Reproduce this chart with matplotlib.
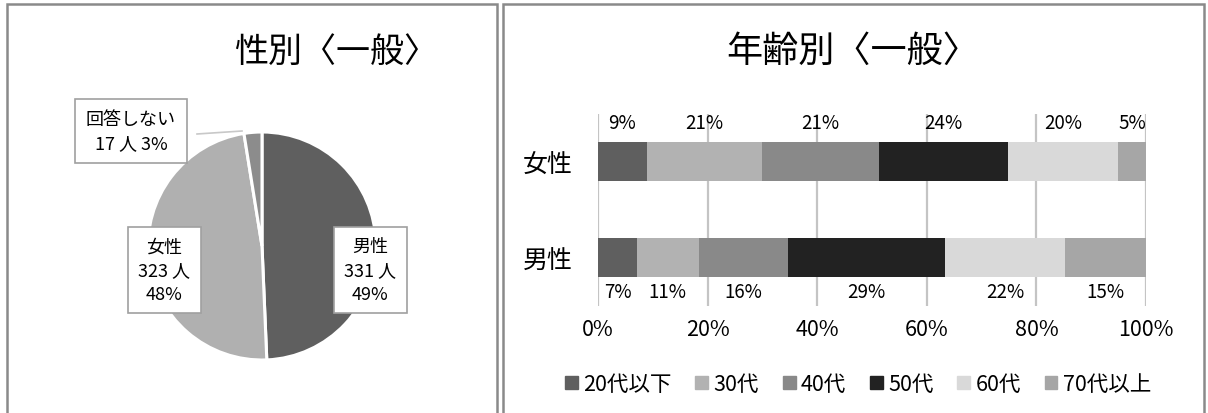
import matplotlib
matplotlib.use("Agg")
import matplotlib.pyplot as plt
from matplotlib.patches import Rectangle, Patch
import numpy as np

plt.rcParams['font.family'] = ['Noto Sans CJK JP', 'DejaVu Sans']

# pie data: gender
gender_labels = ['男性', '女性', '回答しない']
gender_counts = [331, 323, 17]
gender_colors = ['#5f5f5f', '#b0b0b0', '#8c8c8c']

# bar data: age share by gender (percent)
age_groups = ['20代以下', '30代', '40代', '50代', '60代', '70代以上']
sexes = ['男性', '女性']
male_pct = [7.1, 11.3, 16.3, 28.6, 21.9, 14.8]
female_pct = [8.9, 21.1, 21.2, 23.6, 20.1, 5.1]
age_colors = ['#5f5f5f', '#b2b2b2', '#898989', '#222222', '#d9d9d9', '#a6a6a6']

W, H = 1208, 414
fig = plt.figure(figsize=(W / 100, H / 100), dpi=100)


def fx(px):
    return px / W


def fy(py):
    return 1 - py / H


def panel(x0, x1):
    fig.add_artist(Rectangle((fx(x0), fy(H + 5)), fx(x1 - x0), (H) / H,
                             transform=fig.transFigure, fill=False,
                             edgecolor='#8a8a8a', linewidth=1.8))


panel(7, 497)
panel(503, 1204)

# ---- pie ----
cx, cy, r = 262, 247, 114
ax1 = fig.add_axes([fx(8), fy(413), fx(488), 408 / H])
wedges, _ = ax1.pie(gender_counts, colors=gender_colors, startangle=90,
                    counterclock=False,
                    wedgeprops=dict(edgecolor='white', linewidth=2.2))
ax1.set_aspect('auto')
ax1.set_xlim((8 - cx) / r, (496 - cx) / r)
ax1.set_ylim((cy - 413) / r, (cy - 5) / r)
ax1.axis('off')

total = sum(gender_counts)
pcts = [round(c / total * 100) for c in gender_counts]
box = dict(boxstyle='square,pad=0.6', facecolor='white',
           edgecolor='#a0a0a0', linewidth=1.2)
label_pos = [(370.5, 271), (164.5, 271), (131, 132)]
for i, (name, cnt, p) in enumerate(zip(gender_labels, gender_counts, pcts)):
    px, py = label_pos[i]
    if i < 2:
        s = f'{name}\n{cnt} 人\n{p}%'
    else:
        s = f'{name}\n{cnt} 人 {p}%'
    ax1.text((px - cx) / r, (cy - py) / r, s, ha='center', va='center',
             fontsize=13, linespacing=1.4, bbox=box, zorder=5)
# leader line for the small slice
ax1.plot([(197 - cx) / r, (242 - cx) / r], [(cy - 135) / r, (cy - 132) / r],
         color='#c8c8c8', linewidth=1.2, zorder=4)

fig.text(fx(336), fy(52), '性別〈一般〉', ha='center', va='center', fontsize=24.5)

# ---- stacked bar ----
ax2 = fig.add_axes([fx(598), fy(307), fx(1146 - 598), 192 / H])
y = np.arange(len(sexes))
rows = np.array([male_pct, female_pct])
left = np.zeros(len(sexes))
for j, grp in enumerate(age_groups):
    bars = ax2.barh(y, rows[:, j], left=left, height=0.41,
                    color=age_colors[j], label=grp, zorder=3)
    for k, rect in enumerate(bars):
        xc = rect.get_x() + rect.get_width() / 2
        yl = 1.41 if k == 1 else -0.35
        ax2.text(xc, yl, f'{round(rows[k, j])}%', ha='center', va='center',
                 fontsize=13.5, zorder=4)
    left += rows[:, j]

ax2.set_xlim(0, 100)
ax2.set_ylim(-0.505, 1.495)
ax2.set_xticks(range(0, 101, 20))
ax2.set_xticklabels([f'{t}%' for t in range(0, 101, 20)], fontsize=15.5)
ax2.set_yticks(y)
ax2.set_yticklabels(sexes, fontsize=18)
ax2.tick_params(length=0)
ax2.tick_params(axis='x', pad=9)
ax2.tick_params(axis='y', pad=18)
ax2.grid(axis='x', color='#c4c4c4', linewidth=1.6, zorder=0)
for s in ax2.spines.values():
    s.set_visible(False)

handles = [Patch(color=c, label=g) for c, g in zip(age_colors, age_groups)]
fig.legend(handles=handles, loc='center', bbox_to_anchor=(fx(858), fy(385)),
           ncol=6, frameon=False, fontsize=15.5, handlelength=0.6,
           handleheight=0.6, handletextpad=0.25, columnspacing=1.1)

fig.text(fx(853), fy(52), '年齢別〈一般〉', ha='center', va='center', fontsize=26)

fig.savefig('out.png', dpi=100)
